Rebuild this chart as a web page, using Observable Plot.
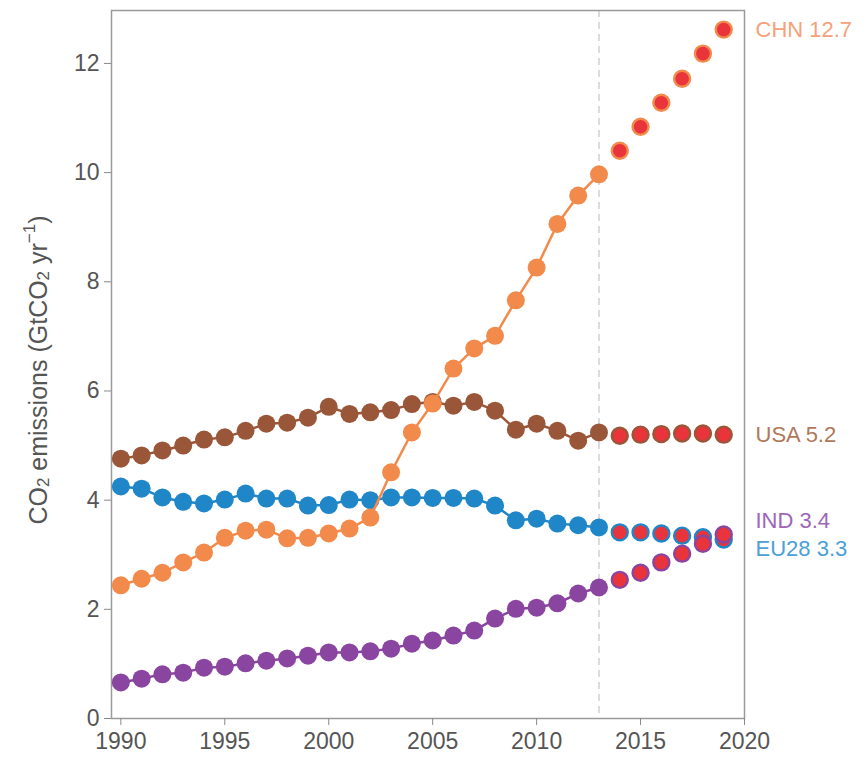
<!DOCTYPE html>
<html>
<head>
<meta charset="utf-8">
<script src="https://cdn.jsdelivr.net/npm/d3@7"></script>
<script src="https://cdn.jsdelivr.net/npm/@observablehq/plot@0.6"></script>
<style>
  html, body { margin: 0; padding: 0; background: #fff; }
  #chart { width: 866px; height: 761px; }
</style>
</head>
<body>
<div id="chart"></div>
<script>
const years = [1990,1991,1992,1993,1994,1995,1996,1997,1998,1999,2000,2001,2002,2003,2004,2005,2006,2007,2008,2009,2010,2011,2012,2013,2014,2015,2016,2017,2018,2019];
const lastObservedYear = 2013;

const chn = [2.44,2.56,2.67,2.86,3.04,3.31,3.44,3.46,3.30,3.31,3.39,3.48,3.68,4.51,5.24,5.77,6.41,6.78,7.01,7.66,8.26,9.06,9.58,9.97,10.40,10.84,11.28,11.72,12.18,12.62];
const usa = [4.76,4.82,4.91,5.00,5.11,5.15,5.27,5.40,5.42,5.51,5.71,5.58,5.61,5.65,5.76,5.80,5.73,5.80,5.64,5.29,5.40,5.27,5.09,5.24,5.18,5.20,5.21,5.22,5.22,5.20];
const eu28 = [4.25,4.21,4.05,3.97,3.94,4.01,4.12,4.03,4.03,3.90,3.91,4.01,4.00,4.05,4.05,4.04,4.04,4.03,3.90,3.63,3.66,3.57,3.54,3.50,3.41,3.41,3.39,3.35,3.32,3.28];
const ind = [0.66,0.73,0.81,0.84,0.93,0.95,1.01,1.06,1.10,1.15,1.21,1.21,1.23,1.28,1.37,1.43,1.52,1.61,1.83,2.01,2.03,2.11,2.29,2.40,2.54,2.67,2.86,3.02,3.20,3.37];

const seriesNames = ["EU28", "USA", "IND", "CHN"];   // drawing order (bottom to top)
const seriesValues = [eu28, usa, ind, chn];
const seriesColors = ["#1f86c8", "#9a5638", "#8a45a0", "#f28a4c"];
const labelColors = ["#4aa0d8", "#b07858", "#a065b8", "#f6a07a"];
const labelTexts = ["EU28 3.3", "USA 5.2", "IND 3.4", "CHN 12.7"];
const labelNudge = [10, 0, -14, 0];
const projectionFill = "#e8343a";

const xTicks = [1990, 1995, 2000, 2005, 2010, 2015, 2020];
const yTicks = [0, 2, 4, 6, 8, 10, 12];

const fontFamily = "'Liberation Sans', Arial, sans-serif";

const marks = [
  Plot.ruleX([lastObservedYear], {stroke: "#d0d0d0", strokeWidth: 1.5, strokeDasharray: "7,5"}),
  Plot.frame({stroke: "#9a9a9a", strokeWidth: 1.5}),
  Plot.axisY({ticks: yTicks, tickSize: 7, tickPadding: 5, label: null, stroke: "#888", fill: "#555", fontSize: 23}),
  Plot.axisX({ticks: xTicks, tickSize: 7, tickPadding: 7, label: null, tickFormat: d => String(d), stroke: "#888", fill: "#555", fontSize: 23})
];

seriesNames.forEach((name, i) => {
  const rows = years.map((year, j) => ({year, value: seriesValues[i][j]}));
  const hist = rows.filter(d => d.year <= lastObservedYear);
  const proj = rows.filter(d => d.year > lastObservedYear);
  marks.push(
    Plot.line(hist, {x: "year", y: "value", stroke: seriesColors[i], strokeWidth: 2.5}),
    Plot.dot(hist, {x: "year", y: "value", r: 9, fill: seriesColors[i], stroke: "none"}),
    Plot.dot(proj, {x: "year", y: "value", r: 8, fill: projectionFill, stroke: seriesColors[i], strokeWidth: 2.4})
  );
  marks.push(
    Plot.text([{year: 2020, value: seriesValues[i][seriesValues[i].length - 1]}], {
      x: "year", y: "value", text: () => labelTexts[i], textAnchor: "start",
      dx: 11, dy: labelNudge[i], fill: labelColors[i], fontSize: 22, clip: false
    })
  );
});

const chart = Plot.plot({
  width: 866,
  height: 761,
  marginLeft: 111,
  marginRight: 122,
  marginTop: 10,
  marginBottom: 43,
  style: {fontFamily, background: "#fff", overflow: "visible"},
  x: {domain: [1989.55, 2020]},
  y: {domain: [0, 12.97]},
  marks
});

const svg = d3.select(chart);
const title = svg.append("text")
  .attr("transform", "translate(40,370) rotate(-90)")
  .attr("text-anchor", "middle")
  .attr("dominant-baseline", "middle")
  .attr("fill", "#555")
  .style("font-family", fontFamily)
  .style("font-size", "25px");
title.append("tspan").text("CO");
title.append("tspan").attr("baseline-shift", "-25%").style("font-size", "17px").text("2");
title.append("tspan").text(" emissions (GtCO");
title.append("tspan").attr("baseline-shift", "-25%").style("font-size", "17px").text("2");
title.append("tspan").text(" yr");
title.append("tspan").attr("baseline-shift", "super").style("font-size", "17px").text("−1");
title.append("tspan").text(")");

document.getElementById("chart").appendChild(chart);
</script>
</body>
</html>
